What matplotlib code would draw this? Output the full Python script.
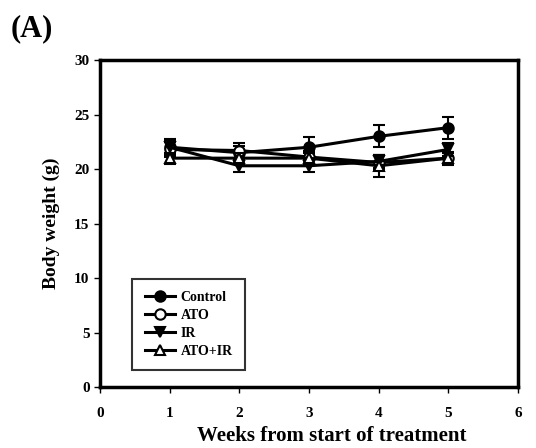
import matplotlib

matplotlib.use("Agg")
import matplotlib.pyplot as plt

plt.rcParams["font.family"] = ["Liberation Serif", "DejaVu Serif"]
plt.rcParams["font.weight"] = "bold"

weeks = [1, 2, 3, 4, 5]
control = [22.0, 21.5, 22.0, 23.0, 23.8]
control_err = [0.8, 0.6, 0.9, 1.0, 1.0]
ato = [21.8, 21.7, 21.1, 20.6, 21.0]
ato_err = [0.7, 0.7, 0.6, 0.7, 0.6]
ir = [22.0, 20.3, 20.3, 20.7, 21.8]
ir_err = [0.7, 0.6, 0.6, 0.6, 0.6]
ato_ir = [21.0, 21.0, 21.0, 20.3, 21.0]
ato_ir_err = [0.5, 0.5, 0.5, 1.0, 0.5]

series = [
    ("Control", control, control_err, "o", "black"),
    ("ATO", ato, ato_err, "o", "white"),
    ("IR", ir, ir_err, "v", "black"),
    ("ATO+IR", ato_ir, ato_ir_err, "^", "white"),
]

fig = plt.figure(figsize=(5.36, 4.48), dpi=100)
ax = fig.add_axes([0.1866, 0.136, 0.78, 0.73])

for name, vals, errs, mk, fc in series:
    ax.errorbar(weeks, vals, yerr=errs, fmt="none", ecolor="black",
                capsize=4, capthick=1.5, elinewidth=1.5)
    ax.plot(weeks, vals, color="black", marker=mk, mfc=fc, mec="black",
            mew=1.5, ms=7.5, lw=2.2, label=name)

ax.set_xlim(0, 6)
ax.set_ylim(0, 30)
ax.set_xticks(range(0, 7))
ax.set_yticks(range(0, 31, 5))
ax.tick_params(direction="out", length=4, width=1, labelsize=11)
ax.tick_params(axis="x", pad=10)
for s in ax.spines.values():
    s.set_linewidth(2.5)
ax.set_xlabel("Weeks from start of treatment", fontsize=15, fontweight="bold")
ax.xaxis.set_label_coords(0.555, -0.118)
ax.set_ylabel("Body weight (g)", fontsize=14, fontweight="bold", labelpad=10)

leg = ax.legend(loc="lower left", bbox_to_anchor=(0.06, 0.03), fontsize=10,
                frameon=True, fancybox=False, edgecolor="black",
                handlelength=2.2, borderpad=0.9, labelspacing=0.35,
                handletextpad=0.4)
leg.get_frame().set_linewidth(1.5)

fig.text(0.02, 0.92, "(A)", fontsize=22, fontweight="bold")

fig.savefig("out.png", dpi=100)
